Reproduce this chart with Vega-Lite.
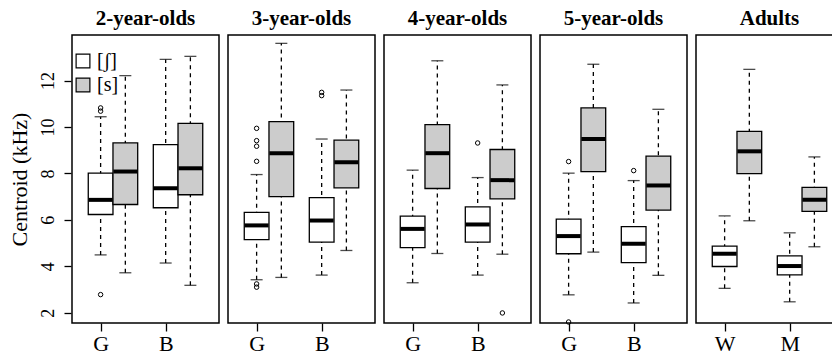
{
  "$schema": "https://vega.github.io/schema/vega-lite/v6.json",
  "padding": {"left": 8, "top": 8, "right": 0, "bottom": 0},
  "background": "white",
  "data": {"values": [
    {"age": "2-year-olds", "grp": "G", "sound": "[ʃ]", "lo": 4.49, "q1": 6.23, "med": 6.86, "q3": 8.01, "hi": 10.44},
    {"age": "2-year-olds", "grp": "G", "sound": "[s]", "lo": 3.72, "q1": 6.66, "med": 8.08, "q3": 9.31, "hi": 12.21},
    {"age": "2-year-olds", "grp": "B", "sound": "[ʃ]", "lo": 4.14, "q1": 6.52, "med": 7.36, "q3": 9.24, "hi": 12.91},
    {"age": "2-year-olds", "grp": "B", "sound": "[s]", "lo": 3.18, "q1": 7.08, "med": 8.22, "q3": 10.15, "hi": 13.04},
    {"age": "3-year-olds", "grp": "G", "sound": "[ʃ]", "lo": 3.42, "q1": 5.15, "med": 5.76, "q3": 6.32, "hi": 7.95},
    {"age": "3-year-olds", "grp": "G", "sound": "[s]", "lo": 3.52, "q1": 7.0, "med": 8.87, "q3": 10.23, "hi": 13.6},
    {"age": "3-year-olds", "grp": "B", "sound": "[ʃ]", "lo": 3.62, "q1": 5.04, "med": 5.97, "q3": 6.96, "hi": 9.48},
    {"age": "3-year-olds", "grp": "B", "sound": "[s]", "lo": 4.68, "q1": 7.38, "med": 8.48, "q3": 9.43, "hi": 11.59},
    {"age": "4-year-olds", "grp": "G", "sound": "[ʃ]", "lo": 3.29, "q1": 4.80, "med": 5.61, "q3": 6.16, "hi": 8.14},
    {"age": "4-year-olds", "grp": "G", "sound": "[s]", "lo": 4.55, "q1": 7.35, "med": 8.87, "q3": 10.10, "hi": 12.85},
    {"age": "4-year-olds", "grp": "B", "sound": "[ʃ]", "lo": 3.62, "q1": 5.04, "med": 5.80, "q3": 6.56, "hi": 7.82},
    {"age": "4-year-olds", "grp": "B", "sound": "[s]", "lo": 4.52, "q1": 6.90, "med": 7.71, "q3": 9.03, "hi": 11.81},
    {"age": "5-year-olds", "grp": "G", "sound": "[ʃ]", "lo": 2.77, "q1": 4.54, "med": 5.30, "q3": 6.03, "hi": 8.01},
    {"age": "5-year-olds", "grp": "G", "sound": "[s]", "lo": 4.61, "q1": 8.08, "med": 9.48, "q3": 10.82, "hi": 12.70},
    {"age": "5-year-olds", "grp": "B", "sound": "[ʃ]", "lo": 2.42, "q1": 4.16, "med": 4.97, "q3": 5.71, "hi": 7.69},
    {"age": "5-year-olds", "grp": "B", "sound": "[s]", "lo": 3.61, "q1": 6.42, "med": 7.48, "q3": 8.74, "hi": 10.76},
    {"age": "Adults", "grp": "W", "sound": "[ʃ]", "lo": 3.05, "q1": 3.99, "med": 4.54, "q3": 4.87, "hi": 6.17},
    {"age": "Adults", "grp": "W", "sound": "[s]", "lo": 5.96, "q1": 7.99, "med": 8.95, "q3": 9.81, "hi": 12.48},
    {"age": "Adults", "grp": "M", "sound": "[ʃ]", "lo": 2.47, "q1": 3.63, "med": 4.01, "q3": 4.45, "hi": 5.44},
    {"age": "Adults", "grp": "M", "sound": "[s]", "lo": 4.84, "q1": 6.36, "med": 6.86, "q3": 7.40, "hi": 8.71},
    {"age": "2-year-olds", "grp": "G", "sound": "[ʃ]", "out": 10.82},
    {"age": "2-year-olds", "grp": "G", "sound": "[ʃ]", "out": 10.68},
    {"age": "2-year-olds", "grp": "G", "sound": "[ʃ]", "out": 2.78},
    {"age": "3-year-olds", "grp": "G", "sound": "[ʃ]", "out": 9.94},
    {"age": "3-year-olds", "grp": "G", "sound": "[ʃ]", "out": 9.41},
    {"age": "3-year-olds", "grp": "G", "sound": "[ʃ]", "out": 9.17},
    {"age": "3-year-olds", "grp": "G", "sound": "[ʃ]", "out": 8.52},
    {"age": "3-year-olds", "grp": "G", "sound": "[ʃ]", "out": 3.24},
    {"age": "3-year-olds", "grp": "G", "sound": "[ʃ]", "out": 3.1},
    {"age": "3-year-olds", "grp": "B", "sound": "[ʃ]", "out": 11.49},
    {"age": "3-year-olds", "grp": "B", "sound": "[ʃ]", "out": 11.35},
    {"age": "4-year-olds", "grp": "B", "sound": "[ʃ]", "out": 9.31},
    {"age": "4-year-olds", "grp": "B", "sound": "[s]", "out": 1.99},
    {"age": "5-year-olds", "grp": "G", "sound": "[ʃ]", "out": 8.51},
    {"age": "5-year-olds", "grp": "G", "sound": "[ʃ]", "out": 1.6},
    {"age": "5-year-olds", "grp": "B", "sound": "[ʃ]", "out": 8.12}
  ]},
  "facet": {
    "column": {
      "field": "age", "type": "nominal",
      "sort": ["2-year-olds", "3-year-olds", "4-year-olds", "5-year-olds", "Adults"],
      "header": {"title": null, "labelFont": "Liberation Serif", "labelFontSize": 21, "labelFontWeight": "bold", "labelColor": "black", "labelPadding": 5}
    }
  },
  "spacing": 7,
  "resolve": {"scale": {"x": "independent", "xOffset": "independent"}},
  "spec": {
    "width": 147,
    "height": 288,
    "encoding": {
      "x": {
        "field": "grp", "type": "nominal", "sort": ["G", "B", "W", "M"],
        "scale": {"paddingInner": 0.24, "paddingOuter": 0.25},
        "axis": {"title": null, "domain": false, "grid": false, "tickSize": 8, "tickColor": "black", "tickWidth": 1.3, "tickOffset": -12.25, "labelFont": "Liberation Serif", "labelFontSize": 22, "labelColor": "black", "labelPadding": 2, "labelAngle": 0}
      },
      "xOffset": {"field": "sound", "type": "nominal", "sort": ["[ʃ]", "[s]"], "scale": {"domain": ["[ʃ]", "[s]"], "paddingInner": 0, "paddingOuter": 0}}
    },
    "layer": [
      {
        "transform": [{"filter": "datum.med != null"}],
        "mark": {"type": "rule", "color": "black", "strokeWidth": 1.3, "strokeDash": [4, 4]},
        "encoding": {
          "y": {"field": "lo", "type": "quantitative", "title": "Centroid (kHz)", "scale": {"domain": [1.557, 13.96], "nice": false, "zero": false}},
          "y2": {"field": "hi"}
        }
      },
      {
        "transform": [{"filter": "datum.med != null"}],
        "mark": {"type": "tick", "color": "black", "size": 12, "thickness": 1.3},
        "encoding": {
          "y": {"field": "lo", "type": "quantitative", "title": "Centroid (kHz)", "scale": {"domain": [1.557, 13.96], "nice": false, "zero": false}}
        }
      },
      {
        "transform": [{"filter": "datum.med != null"}],
        "mark": {"type": "tick", "color": "black", "size": 12, "thickness": 1.3},
        "encoding": {
          "y": {"field": "hi", "type": "quantitative", "title": "Centroid (kHz)", "scale": {"domain": [1.557, 13.96], "nice": false, "zero": false}}
        }
      },
      {
        "transform": [{"filter": "datum.med != null"}],
        "mark": {"type": "bar", "stroke": "black", "strokeWidth": 1.3},
        "encoding": {
          "y": {"field": "q1", "type": "quantitative", "title": "Centroid (kHz)", "scale": {"domain": [1.557, 13.96], "nice": false, "zero": false}},
          "y2": {"field": "q3"},
          "fill": {
            "field": "sound", "type": "nominal", "sort": ["[ʃ]", "[s]"],
            "scale": {"domain": ["[ʃ]", "[s]"], "range": ["white", "#cccccc"]},
            "legend": {"orient": "none", "legendX": 1, "legendY": 16, "title": null, "symbolType": "square", "symbolSize": 190, "symbolStrokeColor": "black", "symbolStrokeWidth": 1.2, "symbolOpacity": 1, "labelFont": "Liberation Serif", "labelFontSize": 20, "labelColor": "black", "labelOffset": 4, "rowPadding": 4, "padding": 0}
          }
        }
      },
      {
        "transform": [{"filter": "datum.med != null"}],
        "mark": {"type": "tick", "color": "black", "size": 24, "thickness": 4, "opacity": 1},
        "encoding": {
          "y": {"field": "med", "type": "quantitative", "title": "Centroid (kHz)", "scale": {"domain": [1.557, 13.96], "nice": false, "zero": false}}
        }
      },
      {
        "transform": [{"filter": "datum.out != null"}],
        "mark": {"type": "point", "shape": "circle", "filled": false, "stroke": "black", "strokeWidth": 1, "size": 20, "opacity": 1},
        "encoding": {
          "y": {"field": "out", "type": "quantitative", "title": "Centroid (kHz)", "scale": {"domain": [1.557, 13.96], "nice": false, "zero": false}}
        }
      }
    ]
  },
  "config": {
    "font": "Liberation Serif",
    "view": {"stroke": "black", "strokeWidth": 1.5},
    "axisY": {"domain": false, "grid": false, "values": [2, 4, 6, 8, 10, 12], "tickSize": 7, "tickColor": "black", "tickWidth": 1.3, "labelFont": "Liberation Serif", "labelFontSize": 18, "labelColor": "black", "labelAngle": -90, "labelAlign": "center", "labelBaseline": "alphabetic", "labelPadding": 11, "titleFont": "Liberation Serif", "titleFontSize": 22, "titleFontWeight": "normal", "titleColor": "black", "titlePadding": 8}
  }
}
